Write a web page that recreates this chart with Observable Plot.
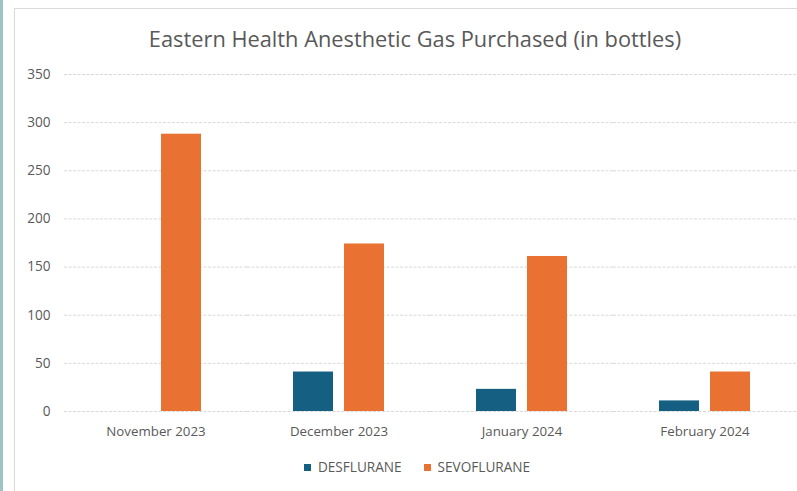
<!DOCTYPE html>
<html>
<head>
<meta charset="utf-8">
<script src="https://cdn.jsdelivr.net/npm/d3@7"></script>
<script src="https://cdn.jsdelivr.net/npm/@observablehq/plot@0.6"></script>
<style>
  html, body { margin: 0; padding: 0; background: #fff; }
  #wrap { position: relative; width: 797px; height: 491px; overflow: hidden; font-family: "Open Sans", sans-serif; background: #fff; }
  #strip { position: absolute; left: 0; top: 0; width: 3px; height: 491px; background: #9fc4c8; }
  #frame { position: absolute; left: 14px; top: 8px; width: 800px; height: 500px; border: 1px solid #d9d9d9; box-sizing: border-box; }
  #title { position: absolute; left: 14px; width: 802px; top: 24px; text-align: center; font-size: 21.8px; color: #595959; line-height: 30px; }
  #chart { position: absolute; left: 0; top: 60px; }
  #legend { position: absolute; left: 14px; width: 806px; top: 457px; text-align: center; font-size: 13.6px; color: #595959; line-height: 20px; }
  .item { display: inline-block; margin: 0 11px; }
  .sw { display: inline-block; width: 7px; height: 7px; margin-right: 7px; vertical-align: 1px; }
</style>
</head>
<body>
<div id="wrap">
  <div id="strip"></div>
  <div id="frame"></div>
  <div id="title"></div>
  <div id="chart"></div>
  <div id="legend"></div>
</div>
<script>
const titleText = "Eastern Health Anesthetic Gas Purchased (in bottles)";
const months = ["November 2023", "December 2023", "January 2024", "February 2024"];
const series = ["DESFLURANE", "SEVOFLURANE"];
const desflurane = [0, 41, 23, 11];
const sevoflurane = [288, 174, 161, 41];
const yTicks = [0, 50, 100, 150, 200, 250, 300, 350];
const colors = ["#156082", "#E97132"];

const data = [];
months.forEach((m, i) => {
  data.push({month: m, series: series[0], value: desflurane[i]});
  data.push({month: m, series: series[1], value: sevoflurane[i]});
});

document.getElementById("title").textContent = titleText;

const chart = Plot.plot({
  width: 797,
  height: 380,
  marginLeft: 64,
  marginRight: 1,
  marginTop: 14,
  marginBottom: 29,
  style: {fontFamily: "'Open Sans', sans-serif", fontSize: "13px", background: "transparent"},
  fx: {domain: months, padding: 0, label: null},
  x: {domain: series, axis: null, paddingInner: 0.216, paddingOuter: 0.902},
  y: {domain: [0, 350], label: null},
  color: {domain: series, range: colors},
  marks: [
    Plot.gridY(yTicks, {stroke: "#d9d9d9", strokeOpacity: 1, strokeDasharray: "3,1.5"}),
    Plot.axisY(yTicks, {tickSize: 0, tickPadding: 14, label: null, color: "#595959", fontSize: 13.6}),
    Plot.axisFx({anchor: "bottom", tickSize: 0, tickPadding: 15, label: null, color: "#595959", fontSize: 13.3}),
    Plot.barY(data, {fx: "month", x: "series", y: "value", fill: "series"})
  ]
});
document.getElementById("chart").appendChild(chart);

const legend = document.getElementById("legend");
series.forEach((s, i) => {
  const item = document.createElement("span");
  item.className = "item";
  const sw = document.createElement("span");
  sw.className = "sw";
  sw.style.background = colors[i];
  item.appendChild(sw);
  item.appendChild(document.createTextNode(s));
  legend.appendChild(item);
});
</script>
</body>
</html>
